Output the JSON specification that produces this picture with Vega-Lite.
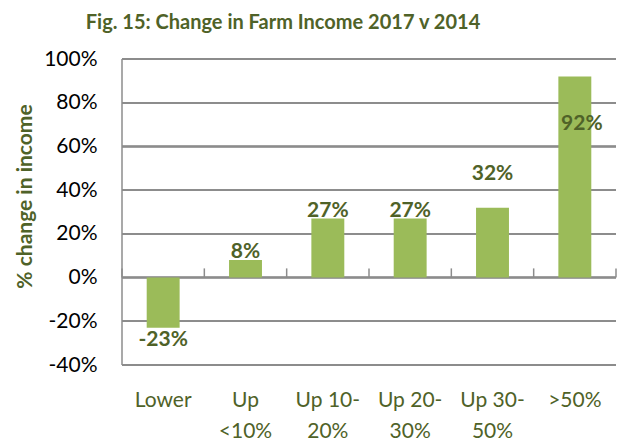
{
  "$schema": "https://vega.github.io/schema/vega-lite/v6.json",
  "autosize": "none",
  "width": 494,
  "height": 306,
  "padding": {"left": 122, "top": 59, "right": 5, "bottom": 76},
  "background": "white",
  "config": {
    "view": {"stroke": null},
    "font": "Lato"
  },
  "title": {
    "text": "Fig. 15: Change in Farm Income 2017 v 2014",
    "font": "Lato",
    "fontSize": 20,
    "fontWeight": "bold",
    "color": "#4F6228",
    "anchor": "middle",
    "dx": -86,
    "offset": 15
  },
  "data": {
    "values": [
      {"category": "Lower", "value": -23, "label": "-23%"},
      {"category": "Up <10%", "value": 8, "label": "8%"},
      {"category": "Up 10-20%", "value": 27, "label": "27%"},
      {"category": "Up 20-30%", "value": 27, "label": "27%"},
      {"category": "Up 30-50%", "value": 32, "label": "32%"},
      {"category": ">50%", "value": 92, "label": "92%"}
    ]
  },
  "layer": [
    {"mark": {"type": "rule", "color": "#8c8c8c", "strokeWidth": 1.5}, "encoding": {"y": {"datum": -40, "type": "quantitative", "scale": {"domain": [-40, 100], "nice": false, "zero": false}}}},
    {"mark": {"type": "rule", "color": "#8c8c8c", "strokeWidth": 1.5}, "encoding": {"y": {"datum": -20, "type": "quantitative"}}},
    {"mark": {"type": "rule", "color": "#8c8c8c", "strokeWidth": 1.5}, "encoding": {"y": {"datum": 0, "type": "quantitative"}}},
    {"mark": {"type": "rule", "color": "#8c8c8c", "strokeWidth": 1.5}, "encoding": {"y": {"datum": 20, "type": "quantitative"}}},
    {"mark": {"type": "rule", "color": "#8c8c8c", "strokeWidth": 1.5}, "encoding": {"y": {"datum": 40, "type": "quantitative"}}},
    {"mark": {"type": "rule", "color": "#8c8c8c", "strokeWidth": 1.5}, "encoding": {"y": {"datum": 60, "type": "quantitative"}}},
    {"mark": {"type": "rule", "color": "#8c8c8c", "strokeWidth": 1.5}, "encoding": {"y": {"datum": 80, "type": "quantitative"}}},
    {"mark": {"type": "rule", "color": "#8c8c8c", "strokeWidth": 1.5}, "encoding": {"y": {"datum": 100, "type": "quantitative"}}},
    {
      "layer": [
        {
          "mark": {"type": "bar", "color": "#9BBB59"},
          "encoding": {
            "x": {
              "field": "category",
              "type": "nominal",
              "sort": null,
              "scale": {"paddingInner": 0.6, "paddingOuter": 0.3},
              "axis": {
                "orient": "bottom",
                "title": null,
                "domain": false,
                "ticks": false,
                "grid": false,
                "labelAngle": 0,
                "labelFont": "Lato",
                "labelFontSize": 21,
                "labelColor": "#4F6228",
                "labelPadding": 24,
                "labelLineHeight": 31,
                "labelExpr": "datum.label == 'Up <10%' ? ['Up', '<10%'] : datum.label == 'Up 10-20%' ? ['Up 10-', '20%'] : datum.label == 'Up 20-30%' ? ['Up 20-', '30%'] : datum.label == 'Up 30-50%' ? ['Up 30-', '50%'] : datum.label"
              }
            },
            "y": {
              "field": "value",
              "type": "quantitative",
              "scale": {"domain": [-40, 100], "nice": false, "zero": false},
              "axis": {
                "values": [-40, -20, 0, 20, 40, 60, 80, 100],
                "labelExpr": "datum.value + '%'",
                "labelFont": "Lato",
                "labelFontSize": 21,
                "labelColor": "#000000",
                "labelPadding": 25,
                "ticks": false,
                "domain": false,
                "grid": false,
                "title": "% change in income",
                "titleFont": "Lato",
                "titleFontSize": 21,
                "titleFontWeight": "bold",
                "titleColor": "#4F6228",
                "titleAngle": 270,
                "titleAlign": "center",
                "titleBaseline": "middle",
                "titleX": -97,
                "titleY": 137
              }
            }
          }
        },
        {
          "transform": [{"filter": "datum.value > 0 && datum.value < 30"}],
          "mark": {"type": "text", "font": "Lato", "fontSize": 21, "fontWeight": "bold", "color": "#4F6228", "baseline": "alphabetic", "dy": -2},
          "encoding": {
            "x": {"field": "category", "type": "nominal", "sort": null},
            "y": {"field": "value", "type": "quantitative"},
            "text": {"field": "label"}
          }
        },
        {
          "transform": [{"filter": "datum.value < 0"}],
          "mark": {"type": "text", "font": "Lato", "fontSize": 21, "fontWeight": "bold", "color": "#4F6228", "baseline": "top", "dy": 1},
          "encoding": {
            "x": {"field": "category", "type": "nominal", "sort": null},
            "y": {"field": "value", "type": "quantitative"},
            "text": {"field": "label"}
          }
        },
        {
          "transform": [{"filter": "datum.category == 'Up 30-50%'"}],
          "mark": {"type": "text", "font": "Lato", "fontSize": 21, "fontWeight": "bold", "color": "#4F6228", "baseline": "alphabetic", "dy": -28},
          "encoding": {
            "x": {"field": "category", "type": "nominal", "sort": null},
            "y": {"field": "value", "type": "quantitative"},
            "text": {"field": "label"}
          }
        },
        {
          "transform": [{"filter": "datum.category == '>50%'"}],
          "mark": {"type": "text", "font": "Lato", "fontSize": 21, "fontWeight": "bold", "color": "#4F6228", "baseline": "alphabetic", "dy": 54, "dx": 7},
          "encoding": {
            "x": {"field": "category", "type": "nominal", "sort": null},
            "y": {"field": "value", "type": "quantitative"},
            "text": {"field": "label"}
          }
        }
      ]
    },
    {
      "data": {"values": [{"boundary": 0}, {"boundary": 1}, {"boundary": 2}, {"boundary": 3}, {"boundary": 4}, {"boundary": 5}, {"boundary": 6}]},
      "mark": {"type": "rule", "color": "#8c8c8c", "strokeWidth": 1.5},
      "encoding": {
        "x": {"field": "boundary", "type": "quantitative", "scale": {"domain": [0, 6], "nice": false, "zero": false}, "axis": null},
        "y": {"datum": 0, "type": "quantitative"},
        "y2": {"datum": 4.2}
      }
    },
    {
      "data": {"values": [{"boundary": 0}]},
      "mark": {"type": "rule", "color": "#8c8c8c", "strokeWidth": 1.5},
      "encoding": {
        "x": {"field": "boundary", "type": "quantitative", "scale": {"domain": [0, 6], "nice": false, "zero": false}, "axis": null},
        "y": {"datum": -40, "type": "quantitative"},
        "y2": {"datum": 100}
      }
    }
  ],
  "resolve": {"scale": {"x": "independent"}}
}
